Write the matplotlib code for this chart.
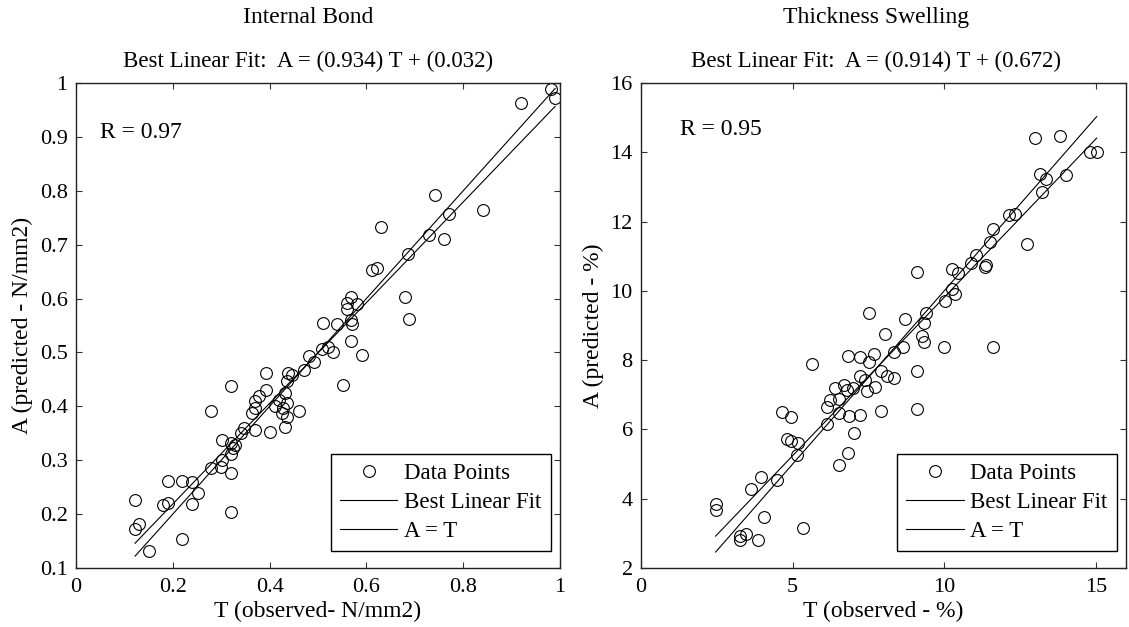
import numpy as np
import matplotlib
matplotlib.use('Agg')
import matplotlib.pyplot as plt

plt.rcParams['font.family'] = ['Liberation Serif', 'DejaVu Serif']

# Internal Bond data (observed T, predicted A), N/mm2
ib_obs = [0.981, 0.990, 0.920, 0.741, 0.771, 0.840, 0.630, 0.729, 0.760, 0.687,
          0.611, 0.622, 0.679, 0.569, 0.560, 0.580, 0.560, 0.689, 0.511, 0.540,
          0.569, 0.571, 0.569, 0.590, 0.508, 0.521, 0.531, 0.481, 0.491, 0.471,
          0.552, 0.392, 0.439, 0.447, 0.435, 0.321, 0.392, 0.378, 0.369, 0.431,
          0.420, 0.412, 0.427, 0.435, 0.425, 0.460, 0.435, 0.279, 0.363, 0.370,
          0.370, 0.401, 0.431, 0.347, 0.340, 0.302, 0.321, 0.328, 0.324, 0.321,
          0.302, 0.300, 0.279, 0.321, 0.191, 0.220, 0.240, 0.252, 0.122, 0.179,
          0.191, 0.240, 0.321, 0.130, 0.122, 0.220, 0.150]
ib_pred = [0.988, 0.973, 0.962, 0.793, 0.756, 0.765, 0.733, 0.718, 0.710, 0.683,
           0.653, 0.657, 0.603, 0.602, 0.591, 0.589, 0.581, 0.563, 0.554, 0.552,
           0.560, 0.552, 0.521, 0.496, 0.507, 0.510, 0.500, 0.493, 0.482, 0.468,
           0.440, 0.462, 0.462, 0.459, 0.447, 0.438, 0.430, 0.419, 0.409, 0.425,
           0.412, 0.400, 0.397, 0.406, 0.388, 0.391, 0.381, 0.391, 0.388, 0.397,
           0.357, 0.353, 0.361, 0.360, 0.350, 0.338, 0.332, 0.329, 0.322, 0.312,
           0.300, 0.288, 0.285, 0.277, 0.261, 0.261, 0.260, 0.240, 0.227, 0.217,
           0.221, 0.219, 0.203, 0.181, 0.173, 0.153, 0.132]
ib_fit = (0.934, 0.032)
ib_r = 0.97

# Thickness Swelling data (observed T, predicted A), %
ts_obs = [13.00, 13.81, 14.82, 15.03, 13.15, 13.35, 14.01, 13.23, 12.15, 12.32,
          11.61, 11.50, 12.72, 11.04, 10.90, 11.34, 11.38, 10.27, 10.44, 9.11,
          10.27, 10.35, 10.03, 9.40, 7.53, 8.71, 9.34, 9.26, 9.34, 10.00,
          11.61, 8.05, 8.65, 8.34, 6.84, 7.21, 7.67, 7.53, 5.63, 9.11,
          7.90, 8.13, 8.34, 7.21, 7.38, 7.44, 7.73, 6.69, 6.40, 6.80,
          6.98, 6.23, 6.15, 6.54, 6.52, 6.86, 7.23, 7.92, 9.11, 4.65,
          4.94, 6.15, 4.82, 4.96, 5.19, 7.04, 5.16, 6.84, 6.52, 4.48,
          3.96, 3.63, 2.46, 2.46, 4.04, 5.34, 3.26, 3.46, 3.26, 3.86]
ts_pred = [14.41, 14.46, 14.02, 14.02, 13.38, 13.23, 13.35, 12.84, 12.19, 12.22,
           11.78, 11.40, 11.35, 11.03, 10.79, 10.70, 10.74, 10.62, 10.52, 10.55,
           10.04, 9.92, 9.71, 9.35, 9.36, 9.18, 9.07, 8.69, 8.52, 8.38,
           8.38, 8.76, 8.37, 8.23, 8.13, 8.09, 8.19, 7.94, 7.89, 7.70,
           7.68, 7.53, 7.49, 7.53, 7.44, 7.10, 7.22, 7.29, 7.20, 7.13,
           7.20, 6.86, 6.65, 6.88, 6.48, 6.38, 6.43, 6.52, 6.59, 6.49,
           6.35, 6.17, 5.72, 5.66, 5.61, 5.90, 5.27, 5.32, 4.98, 4.53,
           4.62, 4.29, 3.86, 3.68, 3.46, 3.15, 2.93, 2.98, 2.82, 2.82]
ts_fit = (0.914, 0.672)
ts_r = 0.95


def draw_panel(ax, obs, pred, fit, r, name, xlabel, ylabel, xlim, ylim,
               xticks, yticks, xticklabels, yticklabels, r_pos, title_x):
    obs = np.array(obs)
    pred = np.array(pred)
    t = np.array([obs.min(), obs.max()])

    ax.plot(obs, pred, 'o', mfc='none', mec='black', ms=8.5, mew=0.8,
            label='Data Points')
    ax.plot(t, fit[0] * t + fit[1], '-', color='black', lw=0.8,
            label='Best Linear Fit')
    ax.plot(t, t, '-', color='black', lw=0.8, label='A = T')

    ax.set_xlim(xlim)
    ax.set_ylim(ylim)
    ax.set_xticks(xticks)
    ax.set_yticks(yticks)
    ax.set_xticklabels(xticklabels)
    ax.set_yticklabels(yticklabels)
    ax.tick_params(direction='in', top=True, right=True, length=4,
                   width=0.8, labelsize=16, color='#333333')
    ax.tick_params(axis='x', pad=7)
    ax.tick_params(axis='y', pad=6)
    for s in ax.spines.values():
        s.set_linewidth(1.0)
        s.set_color('#222222')

    ax.set_xlabel(xlabel, fontsize=17, labelpad=3)
    ax.set_ylabel(ylabel, fontsize=17, labelpad=5)

    # two-line title, MATLAB style
    ax.text(title_x, 1.136, name, transform=ax.transAxes, ha='center',
            va='center', fontsize=17)
    ax.text(title_x, 1.045,
            'Best Linear Fit:  A = (%.3f) T + (%.3f)' % fit,
            transform=ax.transAxes, ha='center', va='center', fontsize=16.5)
    ax.text(r_pos[0], r_pos[1], 'R = %.2f' % r, transform=ax.transAxes,
            ha='left', va='center', fontsize=17)

    leg = ax.legend(loc='lower right', bbox_to_anchor=(0.981, 0.035),
                    borderaxespad=0, fontsize=16.5, handlelength=2.5,
                    handletextpad=0.3, labelspacing=0.35, borderpad=0.4,
                    fancybox=False, framealpha=1)
    leg.get_frame().set_edgecolor('black')
    leg.get_frame().set_linewidth(1.0)


fig = plt.figure(figsize=(11.29, 6.27), dpi=100)
ax1 = fig.add_axes([0.0673, 0.0941, 0.4287, 0.7735])
ax2 = fig.add_axes([0.5678, 0.0941, 0.4296, 0.7735])

draw_panel(ax1, ib_obs, ib_pred, ib_fit, ib_r, 'Internal Bond',
           'T (observed- N/mm2)', 'A (predicted - N/mm2)',
           (0, 1), (0.1, 1),
           [0, 0.2, 0.4, 0.6, 0.8, 1],
           [0.1, 0.2, 0.3, 0.4, 0.5, 0.6, 0.7, 0.8, 0.9, 1],
           ['0', '0.2', '0.4', '0.6', '0.8', '1'],
           ['0.1', '0.2', '0.3', '0.4', '0.5', '0.6', '0.7', '0.8', '0.9', '1'],
           (0.05, 0.897), 0.48)

draw_panel(ax2, ts_obs, ts_pred, ts_fit, ts_r, 'Thickness Swelling',
           'T (observed - %)', 'A (predicted - %)',
           (0, 16), (2, 16),
           [0, 5, 10, 15], [2, 4, 6, 8, 10, 12, 14, 16],
           ['0', '5', '10', '15'],
           ['2', '4', '6', '8', '10', '12', '14', '16'],
           (0.081, 0.904), 0.485)

fig.savefig('out.png', dpi=100)
